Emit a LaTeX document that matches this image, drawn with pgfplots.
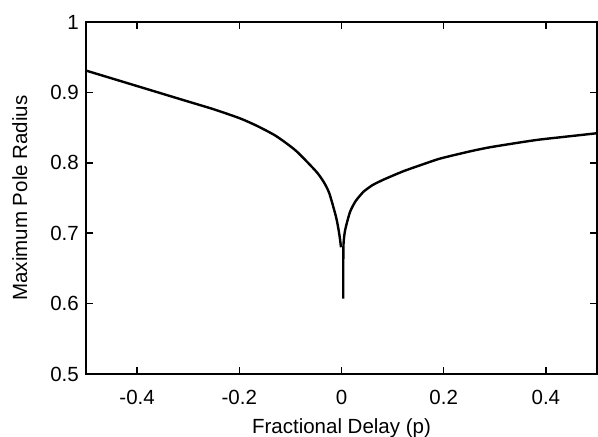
\documentclass[border=0pt]{standalone}
\usepackage{fontspec}
\setmainfont{Liberation Sans}
\usepackage{pgfplots}
\pgfplotsset{compat=1.18}
\usetikzlibrary{calc}
\begin{document}
\fontsize{10.25}{12}\selectfont
\begin{tikzpicture}
\begin{axis}[name=ax,
  scale only axis, width=255.5pt, height=176pt,
  xmin=-0.5, xmax=0.5, ymin=0.5, ymax=1,
  xtick={-0.4,-0.2,0,0.2,0.4},
  ytick={0.5,0.6,0.7,0.8,0.9,1},
  tick align=inside, tick pos=both,
  major tick length=3.5pt,
  axis line style={line width=0.75pt},
  every tick/.style={line width=0.75pt, black},
  /pgf/number format/assume math mode=true,
  tick label style={font=\fontsize{10.25}{12}\selectfont},
  label style={font=\fontsize{10.25}{12}\selectfont},
  xticklabel style={anchor=base, yshift=-15.5pt},
  every axis x label/.style={at={(axis description cs:0.5,0)}, anchor=base, yshift=-30pt},
  every axis y label/.style={at={(axis description cs:-0.1151,0.5)}, anchor=base, rotate=90},
  xlabel={Fractional Delay (p)},
  ylabel={Maximum Pole Radius},
]
\addplot[black, line width=1.2pt, line join=round, smooth, tension=0.4] coordinates {
(-0.5,0.931) (-0.45,0.920) (-0.4,0.909) (-0.35,0.898) (-0.3,0.887)
(-0.25,0.876) (-0.2,0.8635) (-0.167,0.853) (-0.128,0.838) (-0.089,0.817)
(-0.05,0.788) (-0.035,0.773) (-0.024,0.757) (-0.011,0.724) (-0.006,0.706)
(-0.003,0.692) (-0.001,0.680)
};
\addplot[black, line width=1.2pt, line join=round, smooth, tension=0.4] coordinates {
(0.0035,0.607) (0.0035,0.66) (0.004,0.685) (0.007,0.704) (0.0166,0.730)
(0.028,0.746) (0.043,0.759)
};
\addplot[black, line width=1.2pt, line join=round, smooth, tension=0.4] coordinates {
(0.043,0.759) (0.06,0.768) (0.082,0.776) (0.121,0.788)
(0.16,0.798) (0.193,0.806) (0.25,0.816) (0.29,0.822) (0.35,0.829)
(0.388,0.833) (0.45,0.838) (0.5,0.842)
};
\end{axis}
\pgfresetboundingbox
\path ($(ax.south west)+(-43pt,-31.5pt)$) rectangle ($(ax.north east)+(0.5pt,11pt)$);
\end{tikzpicture}
\end{document}
